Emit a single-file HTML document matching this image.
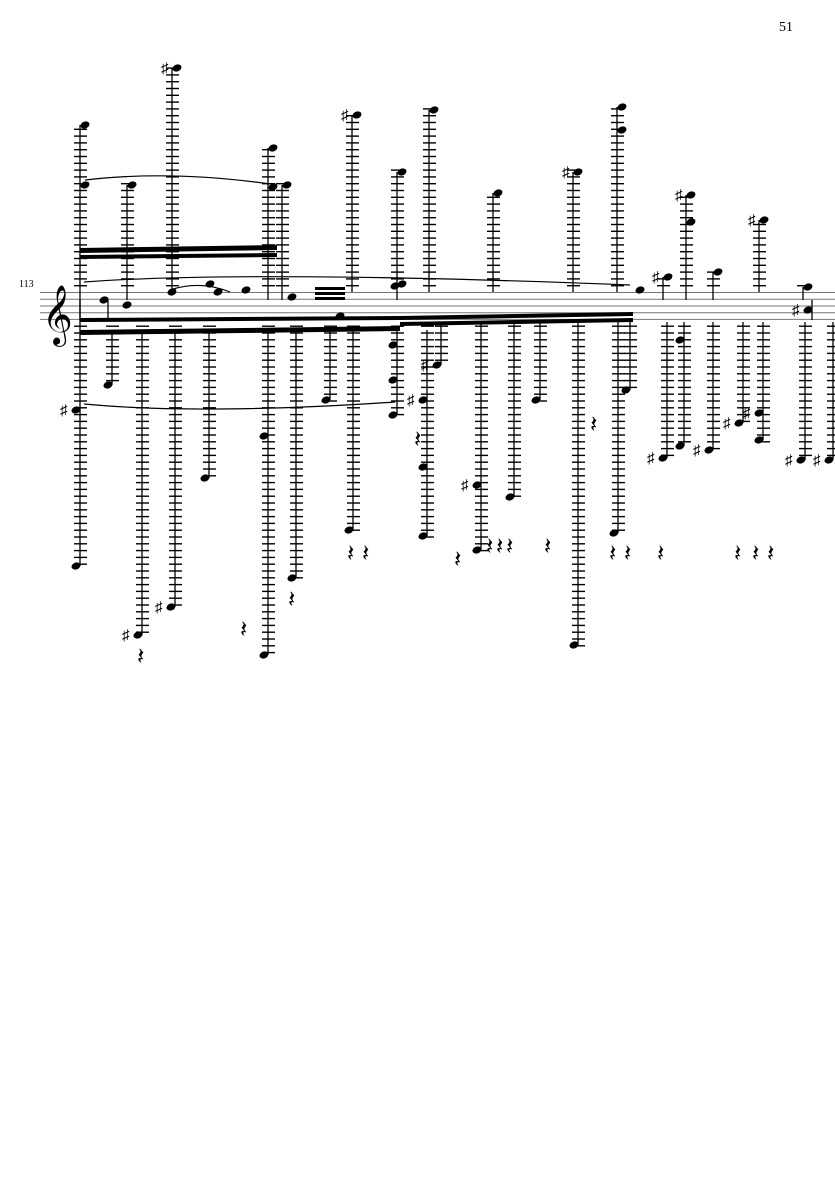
<!DOCTYPE html>
<html><head><meta charset="utf-8"><style>
html,body{margin:0;padding:0;background:#fff;width:835px;height:1181px;overflow:hidden}
svg{display:block}
text{font-family:"Liberation Serif",serif}
</style></head><body>
<svg id="s" width="835" height="1181" xmlns="http://www.w3.org/2000/svg">
<text x="779" y="31" font-size="14">51</text>
<text x="19" y="287" font-size="10">113</text>
<g stroke="#777" stroke-width="1">
<line x1="40" y1="292.5" x2="835" y2="292.5"/><line x1="40" y1="299.2" x2="835" y2="299.2"/><line x1="40" y1="306" x2="835" y2="306"/><line x1="40" y1="312.7" x2="835" y2="312.7"/><line x1="40" y1="319.4" x2="835" y2="319.4"/>
</g>
<text x="42" y="332" font-size="52" font-family="DejaVu Sans,sans-serif">𝄞</text>
<g id="g"></g>
<g fill="#000">
<polygon points="80,248 277,245 277,250 80,253"/>
<polygon points="80,255 277,253 277,257 80,259"/>
<polygon points="80,330 400,326 400,331 80,335"/>
<polygon points="400,316 633,312 633,316 400,320"/>
<polygon points="400,322 633,318 633,322 400,326"/>
<polygon points="80,318 400,316 400,320 80,322"/>
<polygon points="315,287 345,287 345,290 315,290"/>
<polygon points="315,292 345,292 345,295 315,295"/>
<polygon points="315,297 345,297 345,300 315,300"/>
</g>
<g fill="none" stroke="#000" stroke-width="1.2">
<path d="M85,180 Q170,170 270,184"/>
<path d="M84,404 Q200,415 395,402"/>
<path d="M84,282 Q250,270 630,285"/>
<path d="M170,290 Q200,280 230,292"/>
</g>
</svg>
<script>
var g=document.getElementById('g'),NS='http://www.w3.org/2000/svg';
function el(n,a){var e=document.createElementNS(NS,n);for(var k in a)e.setAttribute(k,a[k]);g.appendChild(e);}
var SP=6.8,STOP=292.5,SBOT=319.4;
function ledgers(x,y){
 if(y<STOP){for(var l=STOP-SP;l>=y-2;l-=SP)el('line',{x1:x-6,x2:x+7,y1:l,y2:l,stroke:'#000','stroke-width':1.4});}
 if(y>SBOT){for(var l=SBOT+SP;l<=y+2;l+=SP)el('line',{x1:x-6,x2:x+7,y1:l,y2:l,stroke:'#000','stroke-width':1.4});}
}
function head(x,y,sharp){el('ellipse',{cx:x,cy:y,rx:4.6,ry:3.4,transform:'rotate(-20 '+x+' '+y+')',fill:'#000'});
 if(sharp){var t=document.createElementNS(NS,'text');t.setAttribute('x',x-16);t.setAttribute('y',y+5);t.setAttribute('font-size','15');t.textContent='♯';g.appendChild(t);}}
var up=[[80,[125,185],320],[127,[185],300],[172,[68],290,1],[268,[148,187],300,0],[282,[185],300],[352,[115],292,1],[397,[172,284],300],[429,[110],292],[493,[193],292],[573,[172],292,1],[617,[107,130],292],[686,[195,222],300,1],[713,[272],300],[759,[220],292,1],[663,[277],300,1],[803,[287],300],[490,[],292]];
up.forEach(function(a){var x=a[0],hs=a[1],mn=Math.min.apply(null,hs.concat([292]));
 el('line',{x1:x,x2:x,y1:mn,y2:a[2],stroke:'#000','stroke-width':1.3});
 ledgers(x,mn);hs.forEach(function(h,i){head(x+5,h,a[3]&&i==0);});});
var dn=[[80,[410,566],300,1],[112,[385],330],[142,[635],330,1],[175,[607],330,1],[209,[478],330],[268,[436,655],330],[296,[578],330],[330,[400],330],[353,[530],330],[397,[415,380,345],330],[427,[400,467,536],330,1],[441,[365],322,1],[481,[485,550],322,1],[514,[497],322],[540,[400],322],[578,[645],322],[618,[533],322],[630,[390],322],[667,[458],322,1],[684,[340,446],322],[713,[450],322,1],[743,[423],322,1],[763,[413,440],322,1],[805,[460],322,1],[833,[460],322,1],[812,[310],300,1],[108,[300],300]];
dn.forEach(function(a){var x=a[0],hs=a[1],mx=Math.max.apply(null,hs.concat([320]));
 el('line',{x1:x,x2:x,y1:a[2],y2:mx,stroke:'#000','stroke-width':1.3});
 ledgers(x,mx);hs.forEach(function(h,i){head(x-4,h,a[3]&&i==0);});});
[[127,305],[172,292],[210,284],[218,292],[246,290],[292,297],[340,316],[395,286],[640,290]].forEach(function(p){head(p[0],p[1]);});
[[143,655],[246,628],[294,598],[353,552],[368,552],[420,438],[460,558],[492,545],[502,545],[512,545],[550,545],[596,423],[615,552],[630,552],[663,552],[740,552],[758,552],[773,552]].forEach(function(p){
 var t=document.createElementNS(NS,'text');t.setAttribute('x',p[0]-6);t.setAttribute('y',p[1]+9);t.setAttribute('font-size','24');t.setAttribute('font-family','DejaVu Sans,sans-serif');t.textContent='𝄽';g.appendChild(t);});
</script>
</body></html>
